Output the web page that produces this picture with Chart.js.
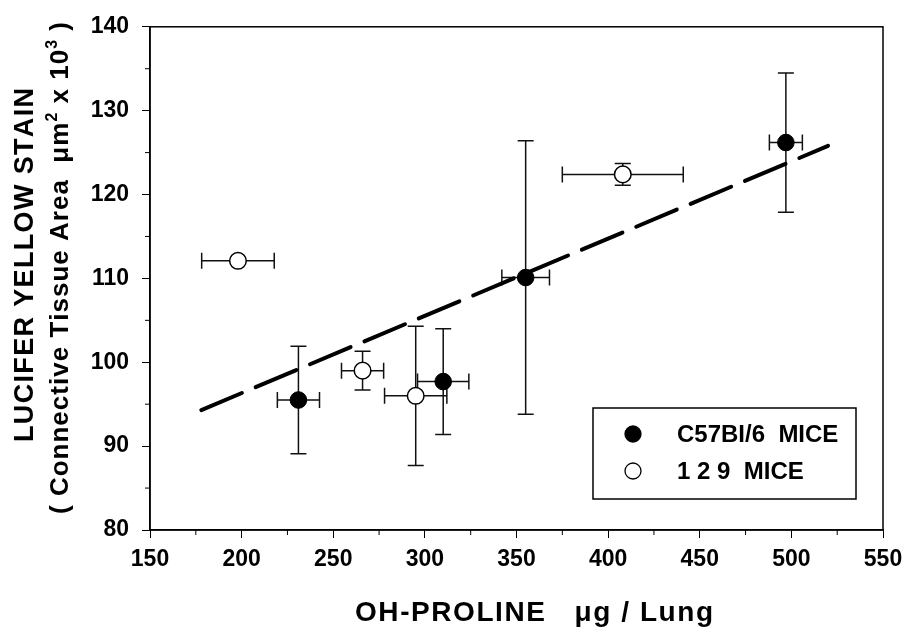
<!DOCTYPE html>
<html>
<head>
<meta charset="utf-8">
<script src="https://cdn.jsdelivr.net/npm/chart.js@4/dist/chart.umd.min.js"></script>
<style>
  html, body { margin: 0; padding: 0; background: #fff; }
  #wrap { width: 912px; height: 628px; position: relative; }
</style>
</head>
<body>
<div id="wrap"><canvas id="c"></canvas></div>
<script>
// ---------- data ----------
const c57X    = [231, 310, 355, 497];
const c57Y    = [95.5, 97.7, 110.1, 126.2];
const c57XErr = [11.5, 14, 13, 9];
const c57YErr = [6.4, 6.3, 16.3, 8.3];

const s129X    = [198, 266, 295, 408];
const s129Y    = [112.1, 99.0, 96.0, 122.4];
const s129XErr = [19.8, 11.5, 17, 33];
const s129YErr = [0, 2.3, 8.3, 1.3];

const fitX = [178, 520];
const fitY = [94.3, 125.8];

const xTickValues = [150, 200, 250, 300, 350, 400, 450, 500, 550];
const yTickValues = [80, 90, 100, 110, 120, 130, 140];

const legendLabels = ['C57BI/6  MICE', '1 2 9  MICE'];
const xTitle = 'OH-PROLINE   \u03BCg / Lung';
const yTitle1 = 'LUCIFER YELLOW STAIN';
const yTitle2 = [['( Connective Tissue Area  \u03BCm', false], ['2', true], [' x 10', false], ['3', true], [' )', false]];

// ---------- helpers ----------
const FONT = "'Liberation Sans', Arial, Helvetica, sans-serif";
const toPts = (xs, ys) => xs.map((x, i) => ({ x: x, y: ys[i] }));

function segWidth(ctx, segs, bigFont, supFont) {
  let w = 0, n = 0;
  segs.forEach(([t, sup]) => {
    ctx.font = sup ? supFont : bigFont;
    for (const ch of t) { w += ctx.measureText(ch).width; n++; }
  });
  return { w, n };
}
// draws text centred at (cx, baseline by) in current transform, fitted to targetW by letter spacing
function drawFitted(ctx, segs, cx, by, bigFont, supFont, targetW, supRaise) {
  const { w, n } = segWidth(ctx, segs, bigFont, supFont);
  const sp = n > 1 ? (targetW - w) / (n - 1) : 0;
  let x = cx - targetW / 2;
  ctx.textAlign = 'left';
  ctx.textBaseline = 'alphabetic';
  segs.forEach(([t, sup]) => {
    ctx.font = sup ? supFont : bigFont;
    for (const ch of t) {
      ctx.fillText(ch, x, sup ? by - supRaise : by);
      x += ctx.measureText(ch).width + sp;
    }
  });
}

const errorBars = {
  id: 'errorBars',
  beforeDatasetsDraw(chart) {
    const { ctx, scales: { x, y } } = chart;
    const cap = 8;
    const groups = [[c57X, c57Y, c57XErr, c57YErr], [s129X, s129Y, s129XErr, s129YErr]];
    ctx.save();
    ctx.strokeStyle = '#111';
    ctx.lineWidth = 1.5;
    groups.forEach(([xs, ys, xe, ye]) => {
      xs.forEach((xv, i) => {
        const px = x.getPixelForValue(xv), py = y.getPixelForValue(ys[i]);
        ctx.beginPath();
        if (ye[i] > 0) {
          const t = y.getPixelForValue(ys[i] + ye[i]), b = y.getPixelForValue(ys[i] - ye[i]);
          ctx.moveTo(px, t); ctx.lineTo(px, b);
          ctx.moveTo(px - cap, t); ctx.lineTo(px + cap, t);
          ctx.moveTo(px - cap, b); ctx.lineTo(px + cap, b);
        }
        if (xe[i] > 0) {
          const l = x.getPixelForValue(xv - xe[i]), r = x.getPixelForValue(xv + xe[i]);
          ctx.moveTo(l, py); ctx.lineTo(r, py);
          ctx.moveTo(l, py - cap); ctx.lineTo(l, py + cap);
          ctx.moveTo(r, py - cap); ctx.lineTo(r, py + cap);
        }
        ctx.stroke();
      });
    });
    ctx.restore();
  }
};

const decorations = {
  id: 'decorations',
  afterDraw(chart) {
    const { ctx, chartArea: a, scales: { x, y } } = chart;
    ctx.save();
    // frame
    ctx.strokeStyle = '#000';
    ctx.lineWidth = 1.5;
    ctx.strokeRect(a.left, a.top, a.right - a.left, a.bottom - a.top);
    // minor ticks
    ctx.lineWidth = 1;
    ctx.beginPath();
    for (let i = 0; i < xTickValues.length - 1; i++) {
      const px = x.getPixelForValue((xTickValues[i] + xTickValues[i + 1]) / 2);
      ctx.moveTo(px, a.bottom); ctx.lineTo(px, a.bottom + 5);
    }
    for (let i = 0; i < yTickValues.length - 1; i++) {
      const py = y.getPixelForValue((yTickValues[i] + yTickValues[i + 1]) / 2);
      ctx.moveTo(a.left, py); ctx.lineTo(a.left - 5, py);
    }
    ctx.stroke();

    ctx.fillStyle = '#000';
    // x title
    drawFitted(ctx, [[xTitle, false]], 534, 621, 'bold 28px ' + FONT, 'bold 16px ' + FONT, 358, 0);
    // y titles (rotated)
    ctx.save();
    ctx.translate(33, 265);
    ctx.rotate(-Math.PI / 2);
    drawFitted(ctx, [[yTitle1, false]], 0, 0, 'bold 27px ' + FONT, 'bold 16px ' + FONT, 354, 0);
    ctx.restore();
    ctx.save();
    ctx.translate(68, 268);
    ctx.rotate(-Math.PI / 2);
    drawFitted(ctx, yTitle2, 0, 0, 'bold 26px ' + FONT, 'bold 16px ' + FONT, 492, 11);
    ctx.restore();

    // legend
    const bx = 593, by = 408, bw = 263, bh = 91;
    ctx.lineWidth = 1.5;
    ctx.strokeStyle = '#000';
    ctx.fillStyle = '#fff';
    ctx.fillRect(bx, by, bw, bh);
    ctx.strokeRect(bx, by, bw, bh);
    const rows = [434, 471];
    const styles = [['#000', '#000'], ['#fff', '#000']];
    rows.forEach((ry, i) => {
      ctx.beginPath();
      ctx.arc(633, ry, 8, 0, Math.PI * 2);
      ctx.fillStyle = styles[i][0];
      ctx.fill();
      ctx.lineWidth = 1.3;
      ctx.strokeStyle = styles[i][1];
      ctx.stroke();
      ctx.fillStyle = '#000';
      ctx.font = 'bold 24px ' + FONT;
      ctx.textAlign = 'left';
      ctx.textBaseline = 'middle';
      ctx.fillText(legendLabels[i], 677, ry + 1);
    });
    ctx.restore();
  }
};

new Chart(document.getElementById('c'), {
  type: 'scatter',
  data: {
    datasets: [
      {
        label: legendLabels[0],
        data: toPts(c57X, c57Y),
        pointRadius: 8.3,
        pointHoverRadius: 8.3,
        backgroundColor: '#000',
        borderColor: '#000',
        borderWidth: 1
      },
      {
        label: legendLabels[1],
        data: toPts(s129X, s129Y),
        pointRadius: 8.3,
        pointHoverRadius: 8.3,
        backgroundColor: '#fff',
        borderColor: '#000',
        borderWidth: 1.5
      },
      {
        label: 'fit',
        data: toPts(fitX, fitY),
        showLine: true,
        borderColor: '#000',
        borderWidth: 4,
        borderDash: [44, 15],
        borderCapStyle: 'round',
        pointRadius: 0,
        fill: false
      }
    ]
  },
  options: {
    responsive: true,
    maintainAspectRatio: false,
    animation: false,
    layout: { padding: { top: 16, right: 29, left: 0, bottom: 0 } },
    plugins: { legend: { display: false }, tooltip: { enabled: false } },
    scales: {
      x: {
        type: 'linear',
        min: 150, max: 550,
        afterBuildTicks: s => { s.ticks = xTickValues.map(v => ({ value: v })); },
        afterFit: s => { s.height = 98; },
        ticks: { color: '#000', font: { family: FONT, size: 23, weight: 'bold' }, padding: 8, maxRotation: 0 },
        grid: { drawOnChartArea: false, drawTicks: true, tickLength: 8, color: '#000', lineWidth: 1 },
        border: { display: true, color: '#000', width: 1.5 }
      },
      y: {
        type: 'linear',
        min: 80, max: 140,
        afterBuildTicks: s => { s.ticks = yTickValues.map(v => ({ value: v })); },
        afterFit: s => { s.width = 150; },
        ticks: { color: '#000', font: { family: FONT, size: 23, weight: 'bold' }, padding: 13 },
        grid: { drawOnChartArea: false, drawTicks: true, tickLength: 8, color: '#000', lineWidth: 1 },
        border: { display: true, color: '#000', width: 1.5 }
      }
    }
  },
  plugins: [errorBars, decorations]
});
</script>
</body>
</html>
